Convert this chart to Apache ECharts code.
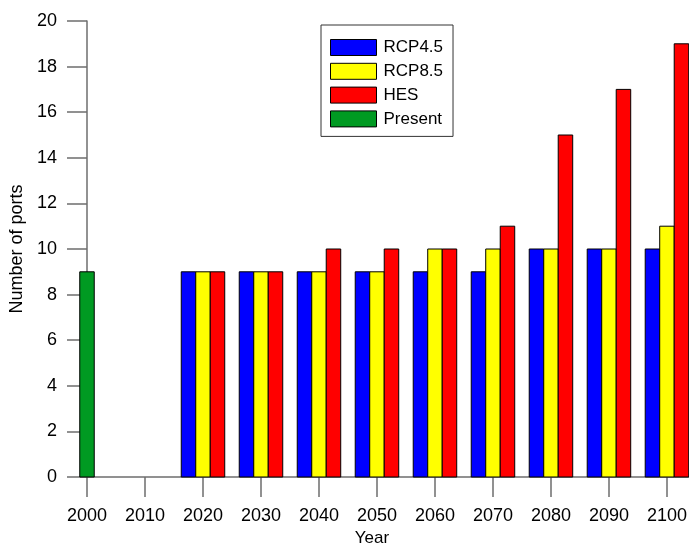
<!DOCTYPE html>
<html>
<head>
<meta charset="utf-8">
<script src="https://cdn.jsdelivr.net/npm/echarts@6/dist/echarts.min.js"></script>
<style>html,body{margin:0;padding:0;background:#fff}#c{width:689px;height:544px}</style>
</head>
<body>
<div id="c"></div>
<script>
const years = [2020, 2030, 2040, 2050, 2060, 2070, 2080, 2090, 2100];
const rcp45 = [9, 9, 9, 9, 9, 9, 10, 10, 10];
const rcp85 = [9, 9, 9, 9, 10, 10, 10, 10, 11];
const hes = [9, 9, 10, 10, 10, 11, 15, 17, 19];
const presentYears = [2000];
const present = [9];
const xTicks = [2000, 2010, 2020, 2030, 2040, 2050, 2060, 2070, 2080, 2090, 2100];

const FONT = 'Liberation Sans, Arial, sans-serif';
const BAR_W = 2.5; // years

function barSeries(name, xs, vals, color, offset) {
  return {
    name: name,
    type: 'custom',
    clip: false,
    itemStyle: { color: color, borderColor: '#000', borderWidth: 1 },
    data: xs.map((x, i) => [x, vals[i]]),
    encode: { x: 0, y: 1 },
    renderItem: function (params, api) {
      const x = api.value(0) + offset;
      const v = api.value(1);
      const p0 = api.coord([x - BAR_W / 2, v]);
      const p1 = api.coord([x + BAR_W / 2, 0]);
      return {
        type: 'rect',
        shape: { x: p0[0], y: p0[1], width: p1[0] - p0[0], height: p1[1] - p0[1] },
        style: { fill: color, stroke: '#000', lineWidth: 1 }
      };
    }
  };
}

const chart = echarts.init(document.getElementById('c'));
chart.setOption({
  animation: false,
  backgroundColor: '#fff',
  textStyle: { fontFamily: FONT },
  grid: { left: 87, right: 0, top: 21, bottom: 67, outerBoundsMode: 'none', containLabel: false },
  legend: {
    orient: 'vertical',
    left: 321,
    top: 25,
    padding: [14, 10, 9, 9],
    itemWidth: 46,
    itemHeight: 16,
    itemGap: 6.8,
    icon: 'rect',
    borderColor: '#333',
    borderWidth: 1,
    itemStyle: { borderColor: '#000', borderWidth: 1 },
    textStyle: { fontSize: 17, color: '#000', fontFamily: FONT, padding: [0, 0, 0, 2] },
    data: ['RCP4.5', 'RCP8.5', 'HES', 'Present']
  },
  xAxis: {
    type: 'value',
    min: 2000,
    max: 2103.8,
    name: 'Year',
    nameLocation: 'middle',
    nameGap: 53,
    nameTextStyle: { fontSize: 17, color: '#000', fontFamily: FONT, padding: [0, 32, 0, 0] },
    splitLine: { show: false },
    axisLine: { show: true, onZero: false, lineStyle: { color: '#6e6e6e', width: 1.5 } },
    axisTick: { show: true, length: 20, inside: false, customValues: xTicks, lineStyle: { color: '#6e6e6e', width: 1.5 } },
    axisLabel: { customValues: xTicks, fontSize: 18, color: '#000', fontFamily: FONT, margin: 30, formatter: v => String(v) }
  },
  yAxis: {
    type: 'value',
    min: 0,
    max: 20,
    interval: 2,
    name: 'Number of ports',
    nameLocation: 'middle',
    nameGap: 55,
    nameRotate: 90,
    nameTextStyle: { fontSize: 18, color: '#000', fontFamily: FONT },
    splitLine: { show: false },
    axisLine: { show: true, lineStyle: { color: '#6e6e6e', width: 1.5 } },
    axisTick: { show: true, length: 20, inside: false, lineStyle: { color: '#6e6e6e', width: 1.5 } },
    axisLabel: { fontSize: 18, color: '#000', fontFamily: FONT, margin: 30 }
  },
  series: [
    barSeries('RCP4.5', years, rcp45, '#0000ff', -BAR_W),
    barSeries('RCP8.5', years, rcp85, '#ffff00', 0),
    barSeries('HES', years, hes, '#ff0000', BAR_W),
    barSeries('Present', presentYears, present, '#009a22', 0)
  ]
});
</script>
</body>
</html>
